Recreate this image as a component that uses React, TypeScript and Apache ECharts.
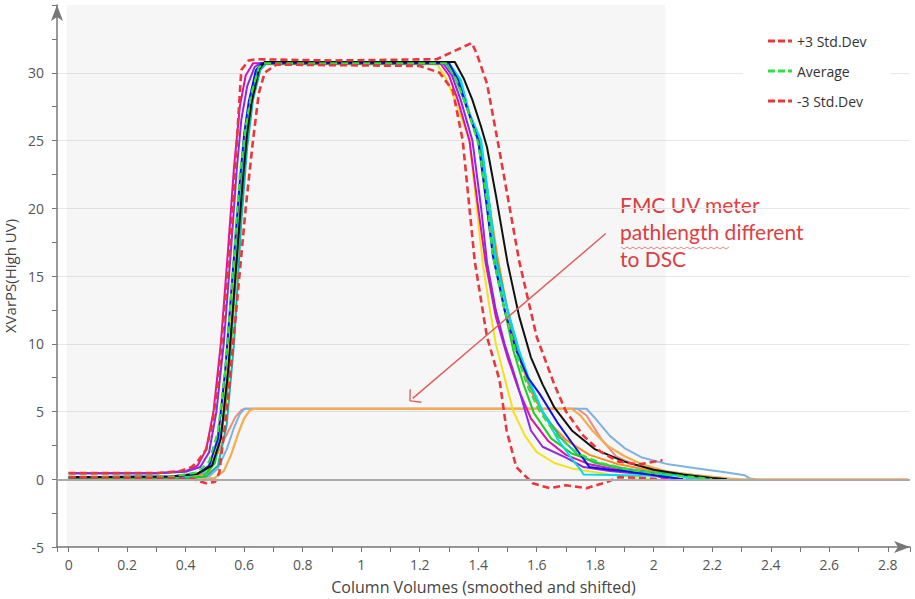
import React, { useEffect, useRef } from "react";
import * as echarts from "echarts";

// ---- tick / axis text ----
const xAxisName = "Column Volumes (smoothed and shifted)";
const yAxisName = "XVarPS(High UV)";
const legendNames = ["+3 Std.Dev", "Average", "-3 Std.Dev"];
const noteText = "FMC UV meter\npathlength different\nto DSC";

// ---- series values [x, y] ----
const plus3 = [[0,0.45],[0.3,0.45],[0.38,0.6],[0.42,0.9],[0.44,1.3],[0.47,2.2],[0.49,4],[0.51,7],[0.53,12],[0.555,18],[0.575,25],[0.59,30.2],[0.615,30.9],[0.64,31],[0.9,30.9],[1.258,31.0],[1.378,32.2],[1.395,31.4],[1.43,29.2],[1.473,24.2],[1.54,16.1],[1.6,10.5],[1.66,7],[1.7,5],[1.76,3.2],[1.82,2],[1.88,1.3],[1.95,1.1],[2.03,1.4]];
const minus3 = [[0,0.15],[0.3,0.1],[0.42,0.05],[0.47,-0.3],[0.5,-0.2],[0.515,0.5],[0.545,6],[0.575,13],[0.605,20],[0.63,25],[0.65,28.5],[0.67,30],[0.71,30.6],[1.2,30.5],[1.268,30.0],[1.313,28.7],[1.347,25],[1.388,16.1],[1.43,10.5],[1.473,7.3],[1.497,3.6],[1.53,0.9],[1.586,-0.3],[1.644,-0.66],[1.7,-0.44],[1.77,-0.66],[1.84,-0.2],[1.88,0.15],[1.95,0.1],[2.03,0]];
const average = [[0,0.2],[0.35,0.2],[0.44,0.5],[0.48,1.3],[0.51,3.5],[0.535,8],[0.56,15],[0.585,22.5],[0.605,26],[0.625,28.5],[0.65,30.4],[0.67,30.7],[1.29,30.7],[1.325,29.5],[1.36,27.5],[1.4,24.8],[1.43,20.5],[1.45,16.5],[1.49,12.5],[1.53,9.3],[1.57,6.8],[1.61,5],[1.67,3.2],[1.74,1.9],[1.82,1.2],[1.92,0.7],[2.02,0.4],[2.12,0.2],[2.2,0]];

const runBlack = [[0,0.15],[0.35,0.2],[0.44,0.4],[0.49,1],[0.52,3],[0.545,8],[0.57,15],[0.595,22],[0.61,25.5],[0.625,27.8],[0.65,30.2],[0.67,30.8],[1.0,30.8],[1.32,30.8],[1.35,29.6],[1.38,28],[1.41,26],[1.43,24.5],[1.46,21],[1.5,16],[1.54,12],[1.58,9],[1.62,7],[1.66,5.3],[1.72,3.6],[1.8,2.2],[1.9,1.3],[2.0,0.7],[2.1,0.35],[2.2,0.1],[2.25,0]];
const runBlue = [[0,0.15],[0.35,0.2],[0.44,0.4],[0.48,1],[0.51,3],[0.535,8],[0.56,15],[0.585,22],[0.6,25.5],[0.615,27.8],[0.64,30.2],[0.66,30.7],[1.3,30.7],[1.33,29.5],[1.36,27.5],[1.4,25],[1.43,20],[1.45,16.5],[1.49,12.5],[1.53,9.5],[1.57,7.5],[1.61,6.3],[1.67,4.2],[1.73,2.4],[1.78,0.9],[1.85,0.7],[1.9,0.6],[2.0,0.3],[2.1,0]];
const runCyan = [[0,0.15],[0.4,0.2],[0.46,0.5],[0.5,1.5],[0.525,4],[0.55,9],[0.575,17],[0.6,24],[0.62,27.5],[0.645,30],[0.67,30.7],[1.3,30.7],[1.34,29.5],[1.37,27],[1.41,25],[1.44,20],[1.46,16],[1.5,12.5],[1.54,9.5],[1.58,7],[1.62,5],[1.67,3],[1.72,1.5],[1.75,0.7],[1.76,0.35],[1.9,0.3],[2.0,0.25],[2.08,0.3],[2.12,0.05],[2.2,0]];
const runPurple = [[0,0.45],[0.3,0.45],[0.4,0.55],[0.45,0.9],[0.48,2],[0.505,5],[0.53,10],[0.555,17],[0.575,23],[0.59,26.5],[0.61,29],[0.635,30.4],[0.653,30.7],[1.28,30.7],[1.31,29.8],[1.34,28],[1.38,25],[1.41,20],[1.43,16],[1.46,12.5],[1.49,10],[1.53,7.3],[1.58,3.6],[1.62,2.4],[1.7,1.6],[1.76,0.9],[1.85,0.6],[1.95,0.4],[2.05,0.15],[2.1,0]];
const runMagenta = [[0,0.45],[0.3,0.45],[0.4,0.6],[0.44,1],[0.47,2.2],[0.495,5],[0.52,10],[0.545,17],[0.565,23],[0.585,27.5],[0.605,29.8],[0.63,30.7],[1.27,30.7],[1.3,29.8],[1.33,28],[1.37,25],[1.4,20],[1.425,16],[1.46,12],[1.5,9],[1.54,6.5],[1.58,4.5],[1.64,2.8],[1.7,1.8],[1.78,1.1],[1.9,0.6],[2.0,0.3],[2.05,0]];
const runYellow = [[0,0.1],[0.4,0.15],[0.47,0.6],[0.5,2],[0.53,6],[0.555,12],[0.58,20],[0.6,25],[0.62,28],[0.645,30.2],[0.66,30.6],[1.26,30.6],[1.29,29.6],[1.32,28],[1.37,25],[1.395,20],[1.415,16],[1.44,12.5],[1.46,10],[1.49,7.5],[1.52,5],[1.56,3.2],[1.6,2],[1.66,1.2],[1.72,0.8],[1.85,0.35],[2.0,0]];
const runGreen = [[0,0.05],[0.38,0.05],[0.46,0.2],[0.5,1.2],[0.53,4.5],[0.555,10],[0.58,18],[0.6,24],[0.62,27.5],[0.645,30.2],[0.665,30.7],[1.29,30.7],[1.32,29.7],[1.36,27.5],[1.4,25],[1.43,20.5],[1.455,16.5],[1.49,12.5],[1.52,9.5],[1.555,7],[1.59,4.9],[1.65,3],[1.72,1.9],[1.81,1.2],[1.9,0.7],[2.0,0.4],[2.15,0.2],[2.22,0]];
const runOrange = [[0,0.1],[0.42,0.15],[0.48,0.5],[0.51,2],[0.54,6],[0.565,13],[0.59,21],[0.61,25.5],[0.63,28.3],[0.655,30.3],[0.675,30.7],[1.3,30.7],[1.34,29.3],[1.37,27],[1.41,24.5],[1.44,20],[1.465,16.5],[1.5,12.5],[1.54,9],[1.58,6.5],[1.63,4.5],[1.7,2.9],[1.78,1.8],[1.88,1.1],[2.0,0.6],[2.12,0.25],[2.2,0]];
const runTeal = [[0,0.05],[0.4,0.05],[0.47,0.2],[0.51,1],[0.54,4],[0.565,10],[0.59,19],[0.61,24.5],[0.63,28],[0.655,30.2],[0.675,30.7],[1.3,30.7],[1.335,29.4],[1.37,27],[1.41,24.5],[1.44,20],[1.46,16.5],[1.5,12.5],[1.54,9.3],[1.58,6.8],[1.62,5],[1.68,3.1],[1.74,1.8],[1.8,1.2],[1.9,0.8],[2.0,0.5],[2.1,0.35],[2.15,0.1],[2.22,0.05],[2.25,0]];

// FMC runs (different pathlength, plateau ~5.2)
const fmcOrange = [[0,0],[0.45,0],[0.5,0.1],[0.53,0.6],[0.555,1.8],[0.58,3.4],[0.6,4.5],[0.62,5.1],[0.635,5.2],[1.72,5.2],[1.75,4.7],[1.79,3.6],[1.84,2.5],[1.9,1.7],[1.96,1.1],[2.04,0.6],[2.14,0.3],[2.26,0.05],[2.3,0],[2.87,0]];
const fmcBlue = [[0,0.1],[0.4,0.1],[0.48,0.2],[0.51,0.8],[0.54,2.2],[0.565,3.8],[0.585,4.8],[0.6,5.2],[1.77,5.2],[1.8,4.5],[1.85,3.2],[1.9,2.3],[1.96,1.6],[2.05,1.1],[2.15,0.8],[2.25,0.5],[2.31,0.3],[2.33,0.05],[2.35,0]];
const fmcSalmon = [[0,0.1],[0.4,0.15],[0.45,0.4],[0.48,1],[0.51,2],[0.54,3.3],[0.57,4.6],[0.59,5.1],[0.6,5.2],[1.74,5.2],[1.77,4.7],[1.82,3],[1.87,1.7],[1.93,1.1],[2.02,0.6],[2.12,0.35],[2.2,0.15],[2.27,0]];

// annotation arrow endpoints (data coords)
const arrowFrom = [1.836, 18.13];
const arrowTo = [1.176, 5.97];
const shadedX = [-0.007, 2.04];

const FONT = "Open Sans";
const DASH_ICON = "path://M0,0 H7 V3 H0 Z M10,0 H17 V3 H10 Z M20,0 H24 V3 H20 Z";

export default function App() {
  const ref = useRef<HTMLDivElement>(null);
  useEffect(() => {
    if (!ref.current) return;
    const chart = echarts.init(ref.current, null, { renderer: "svg" });
    const solid = (name: string, data: number[][], color: string, width = 2) => ({
      type: "line", name, data, symbol: "none", showSymbol: false,
      lineStyle: { color, width }, itemStyle: { color }, silent: true,
    });
    const dashed = (name: string, data: number[][], color: string, width = 2.6) => ({
      type: "line", name, data, symbol: "none", showSymbol: false,
      lineStyle: { color, width, type: [7, 4] }, itemStyle: { color }, silent: true,
    });
    // spell-check squiggle under "pathlength"
    const squiggle: number[][] = [];
    for (let i = 0; i <= 36; i++) squiggle.push([621 + i * 3, 247 + (i % 2 === 0 ? 0 : 2)]);
    const option: any = {
      animation: false,
      textStyle: { fontFamily: FONT },
      grid: { left: 57, right: 5, top: 5, bottom: 52, containLabel: false, outerBoundsMode: "none" },
      legend: {
        data: legendNames.map((n) => ({ name: n, icon: DASH_ICON })),
        orient: "vertical",
        left: 743,
        top: 28,
        backgroundColor: "#ffffff",
        padding: [6, 24, 6, 25],
        itemGap: 16,
        itemWidth: 24,
        itemHeight: 3,
        textStyle: { fontSize: 14, color: "#333", fontFamily: FONT },
      },
      xAxis: {
        type: "value",
        min: -0.04,
        max: 2.876,
        splitNumber: 15,
        name: xAxisName,
        nameLocation: "middle",
        nameGap: 32,
        nameTextStyle: { fontSize: 16, color: "#444", fontFamily: FONT },
        axisLine: { onZero: false, lineStyle: { color: "#777", width: 1.5 }, symbol: ["none", "arrow"], symbolSize: [9, 16] },
        axisTick: { show: true, length: 5, lineStyle: { color: "#777" } },
        minorTick: { show: true, splitNumber: 2, length: 5, lineStyle: { color: "#777" } },
        axisLabel: { showMinLabel: false, showMaxLabel: false, fontSize: 14, color: "#555", margin: 10, fontFamily: FONT },
        splitLine: { show: false },
      },
      yAxis: {
        type: "value",
        min: -5,
        max: 35,
        interval: 5,
        name: yAxisName,
        nameLocation: "middle",
        nameGap: 35,
        nameTextStyle: { fontSize: 15, color: "#444", fontFamily: FONT },
        axisLine: { show: true, onZero: false, lineStyle: { color: "#777", width: 1.5 }, symbol: ["none", "arrow"], symbolSize: [9, 16] },
        axisTick: { show: true, length: 5, lineStyle: { color: "#777" } },
        minorTick: { show: true, splitNumber: 2, length: 5, lineStyle: { color: "#777" } },
        axisLabel: { showMaxLabel: false, fontSize: 14, color: "#555", margin: 13, fontFamily: FONT },
        splitLine: { show: true, showMinLine: false, showMaxLine: false, lineStyle: { color: "#e8e8e8", width: 1 } },
      },
      series: [
        {
          type: "line", name: "bg", data: [], silent: true,
          markArea: {
            silent: true,
            itemStyle: { color: "rgba(0,0,0,0.035)" },
            data: [[{ xAxis: shadedX[0], yAxis: -5 }, { xAxis: shadedX[1], yAxis: 35 }]],
          },
          markLine: {
            silent: true, symbol: ["none", "none"], label: { show: false },
            lineStyle: { color: "#aaaaaa", width: 2, type: "solid" },
            data: [{ yAxis: 0 }],
          },
        },
        solid("FMC 1", fmcSalmon, "#f28a80"),
        solid("FMC 2", fmcBlue, "#7fb2de"),
        solid("FMC 3", fmcOrange, "#f5ac4c", 2.2),
        solid("Run Yellow", runYellow, "#f2e21a"),
        solid("Run Orange", runOrange, "#ff8c1a"),
        solid("Run Teal", runTeal, "#14b8a0"),
        solid("Run Green", runGreen, "#22cc22"),
        solid("Run Magenta", runMagenta, "#dd11aa"),
        solid("Run Purple", runPurple, "#8a2be2"),
        solid("Run Cyan", runCyan, "#00dcee"),
        solid("Run Blue", runBlue, "#1010ee"),
        solid("Run Black", runBlack, "#111111"),
        dashed("Average", average, "#33dd44", 2.2),
        dashed("-3 Std.Dev", minus3, "#e8383d"),
        dashed("+3 Std.Dev", plus3, "#e8383d"),
        {
          type: "line", name: "note", data: [], silent: true,
          markLine: {
            silent: true,
            symbol: ["none", "path://M0,0 L12,10 L10.8,11.3 L0,2.2 L-10.8,11.3 L-12,10 Z"],
            symbolSize: [18, 9],
            label: { show: false },
            lineStyle: { color: "#e05a5a", width: 1.4, type: "solid" },
            data: [[{ coord: arrowFrom }, { coord: arrowTo }]],
          },
        },
      ],
      graphic: [
        {
          type: "text", left: 620, top: 191, silent: true,
          style: { text: noteText, fill: "#e2403f", font: `21px Lato`, lineHeight: 27 },
        },
        {
          type: "polyline", silent: true,
          shape: { points: squiggle },
          style: { stroke: "#e06a6a", lineWidth: 0.8, fill: null },
        },
      ],
    };
    chart.setOption(option);
    return () => chart.dispose();
  }, []);
  return <div ref={ref} style={{ position: "fixed", left: 0, top: 0, width: 915, height: 599, background: "#fff" }} />;
}
